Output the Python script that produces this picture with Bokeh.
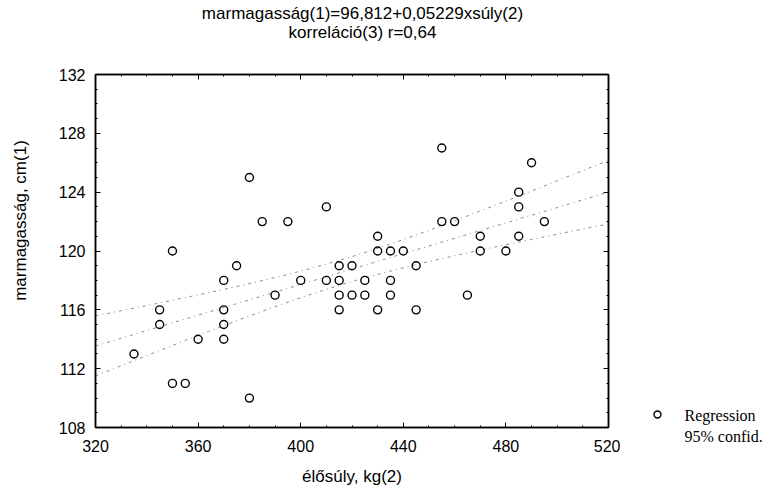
import numpy as np
from bokeh.plotting import figure
from bokeh.layouts import row, column
from bokeh.models import (LinearAxis, FixedTicker, Range1d)
from bokeh.core.properties import value
from bokeh.embed import file_html
from bokeh.resources import INLINE

# ---- data ----
weight = [335, 345, 345, 350, 350, 355, 360, 370, 370, 370, 370, 375, 380, 380,
          385, 390, 395, 400, 410, 410, 415, 415, 415, 415, 420, 420, 425, 425,
          430, 430, 430, 435, 435, 435, 440, 445, 445, 455, 455, 460, 465, 470,
          470, 480, 485, 485, 485, 490, 495]
height = [113, 116, 115, 120, 111, 111, 114, 118, 116, 115, 114, 119, 110, 125,
          122, 117, 122, 118, 123, 118, 119, 118, 117, 116, 119, 117, 118, 117,
          121, 120, 116, 120, 118, 117, 120, 119, 116, 127, 122, 122, 117, 121,
          120, 120, 124, 123, 121, 126, 122]
intercept = 96.812
slope = 0.05229
x_ticks = [320, 360, 400, 440, 480, 520]
y_ticks = [108, 112, 116, 120, 124, 128, 132]
title_lines = ["marmagasság(1)=96,812+0,05229xsúly(2)", "korreláció(3) r=0,64"]
xlabel = "élősúly, kg(2)"
ylabel = "marmagasság, cm(1)"
legend_labels = ["Regression", "95% confid."]

# ---- regression line and 95% confidence band ----
xw = np.array(weight, float)
yh = np.array(height, float)
n = len(xw)
resid = yh - (intercept + slope * xw)
s = np.sqrt(np.sum(resid ** 2) / (n - 2))
xbar = xw.mean()
sxx = np.sum((xw - xbar) ** 2)
t = 2.01
xl = np.linspace(x_ticks[0], x_ticks[-1], 60)
yl = intercept + slope * xl
half = t * s * np.sqrt(1.0 / n + (xl - xbar) ** 2 / sxx)

FONT = "Liberation Sans"

def strip(w, h):
    fig = figure(width=w, height=h, x_range=Range1d(0, w), y_range=Range1d(0, h),
                 output_backend="svg", toolbar_location=None, min_border=0,
                 min_border_left=0, min_border_right=0, min_border_top=0,
                 min_border_bottom=0)
    fig.frame_align = False
    fig.axis.visible = False
    fig.xgrid.visible = False
    fig.ygrid.visible = False
    fig.outline_line_color = None
    fig.background_fill_color = "white"
    fig.border_fill_color = "white"
    return fig

# ---- title strip ----
tf = strip(765, 60)
tf.text([362, 362], [47, 28], text=title_lines, text_font=value(FONT),
        text_font_size="17px", text_align="center", text_baseline="middle",
        text_color="black")

# ---- y label strip ----
yf = strip(50, 428)
yf.text([20], [268], text=[ylabel], angle=np.pi / 2, text_font=value(FONT),
        text_font_size="17px", text_align="center", text_baseline="middle",
        text_color="black")

# ---- main plot ----
p = figure(width=570, height=428, x_range=Range1d(320, 520), y_range=Range1d(108, 132),
           output_backend="svg", toolbar_location=None,
           min_border_left=45, min_border_right=12, min_border_top=14, min_border_bottom=60)
p.frame_align = False
p.xgrid.visible = False
p.ygrid.visible = False
p.outline_line_color = "black"
p.outline_line_width = 1.5
p.background_fill_color = "white"
p.border_fill_color = "white"

line_dash = "3 4 1 4"
band_col = "#8a8a8a"
p.line(xl, yl, line_color=band_col, line_width=1, line_dash=line_dash)
p.line(xl, yl + half, line_color=band_col, line_width=1, line_dash=line_dash)
p.line(xl, yl - half, line_color=band_col, line_width=1, line_dash=line_dash)
p.scatter(weight, height, marker="circle", size=8, fill_color=None,
          line_color="black", line_width=1.4)

def style_axis(ax, ticks, minor, show_labels):
    ax.ticker = FixedTicker(ticks=ticks, minor_ticks=minor)
    ax.major_tick_in = 5
    ax.major_tick_out = 0
    ax.minor_tick_in = 2
    ax.minor_tick_out = 0
    ax.axis_line_color = "black"
    ax.axis_line_width = 1.5
    ax.major_tick_line_color = "black"
    ax.minor_tick_line_color = "black"
    ax.major_label_text_font = FONT
    ax.major_label_text_font_size = "16px"
    ax.major_label_text_color = "black" if show_labels else None
    ax.axis_label_text_font = FONT
    ax.axis_label_text_font_style = "normal"
    ax.axis_label_text_font_size = "17px"
    ax.axis_label_text_color = "black"

x_minor = list(range(320, 521, 10))
y_minor = list(range(108, 133, 1))
style_axis(p.xaxis[0], x_ticks, x_minor, True)
style_axis(p.yaxis[0], y_ticks, y_minor, True)
p.xaxis[0].axis_label = xlabel
p.xaxis[0].major_label_standoff = 12
p.xaxis[0].axis_label_standoff = 12
p.yaxis[0].major_label_standoff = 10

top = LinearAxis()
style_axis(top, x_ticks, x_minor, False)
top.major_label_text_font_size = "0px"
top.major_label_standoff = 0
p.add_layout(top, "above")
right = LinearAxis()
style_axis(right, y_ticks, y_minor, False)
right.major_label_text_font_size = "0px"
right.major_label_standoff = 0
p.add_layout(right, "right")

# ---- legend strip ----
q = strip(145, 428)
q.scatter([37], [74], marker="circle", size=7, fill_color=None,
          line_color="black", line_width=1.4)
q.text([64, 64], [73, 52], text=legend_labels, text_font=value("Liberation Serif"),
       text_font_size="16px", text_baseline="middle", text_align="left",
       text_color="black")

lay = column(tf, row(yf, p, q, spacing=0), spacing=0)
open("out.html", "w").write(file_html(lay, INLINE))
